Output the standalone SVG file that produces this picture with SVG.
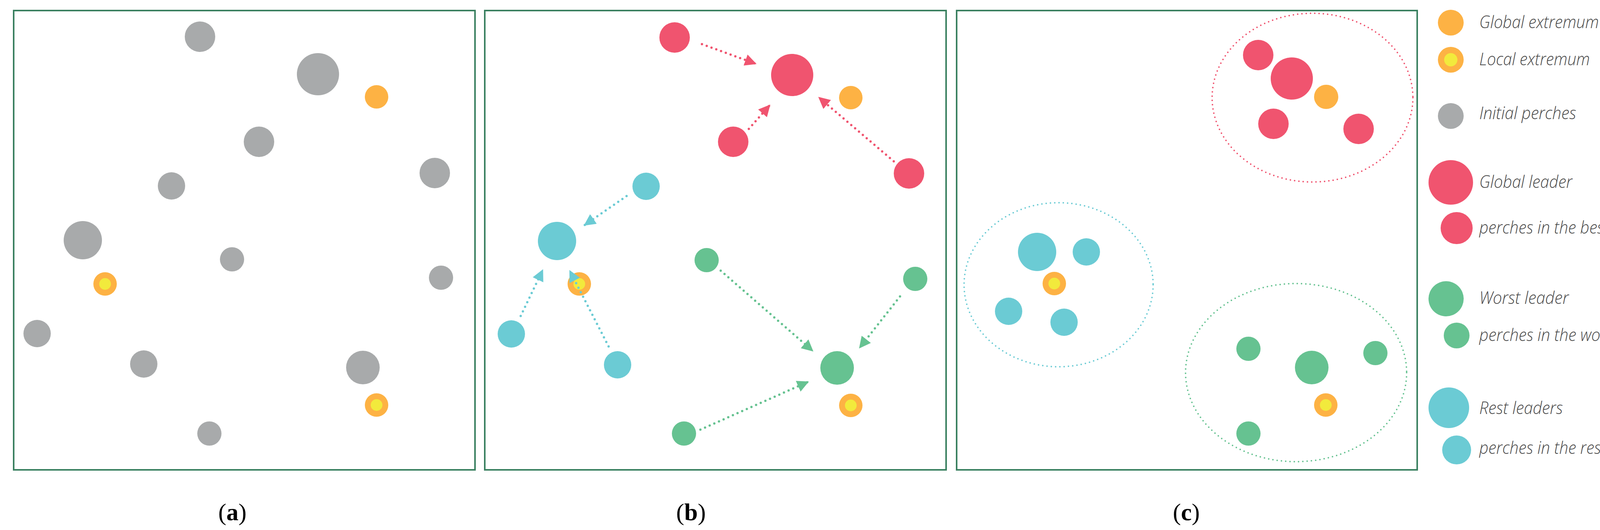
<svg xmlns="http://www.w3.org/2000/svg" width="4287" height="1357" viewBox="0 0 4287 1357">
<style>
.box{fill:#fff;stroke:#3a8060;stroke-width:4}
.g{fill:#a8aaab}.o{fill:#fdb244}.y{fill:#f2ea3c}.r{fill:#f0546f}.c{fill:#6bcbd4}.gr{fill:#66c291}
.ar{fill:none;stroke-width:6;stroke-dasharray:0 13;stroke-linecap:round}
.el{fill:none;stroke-width:4;stroke-dasharray:0 11;stroke-linecap:round}
.lg{font-family:"Open Sans",sans-serif;font-style:italic;font-weight:300;font-size:44px;fill:#4a4a4a}
.cap{font-family:"Liberation Serif",serif;font-size:62px;fill:#000}
</style>
<defs>
<marker id="mr" viewBox="0 0 10 10" refX="9" refY="5" markerWidth="5" markerHeight="5" orient="auto" markerUnits="strokeWidth"><path d="M0,0L10,5L0,10z" fill="#f0546f"/></marker>
<marker id="mc" viewBox="0 0 10 10" refX="9" refY="5" markerWidth="5" markerHeight="5" orient="auto" markerUnits="strokeWidth"><path d="M0,0L10,5L0,10z" fill="#6bcbd4"/></marker>
<marker id="mg" viewBox="0 0 10 10" refX="9" refY="5" markerWidth="5" markerHeight="5" orient="auto" markerUnits="strokeWidth"><path d="M0,0L10,5L0,10z" fill="#66c291"/></marker>
</defs>
<g id="panel-a">
<rect class="box" x="35" y="27" width="1181" height="1176"/>
<circle class="g" cx="512" cy="94" r="39"/><circle class="g" cx="814" cy="190" r="54"/>
<circle class="o" cx="964" cy="248" r="30"/>
<circle class="g" cx="663" cy="363" r="39"/><circle class="g" cx="1113" cy="443" r="39"/>
<circle class="g" cx="439" cy="476" r="35"/><circle class="g" cx="212" cy="615" r="49"/>
<circle class="g" cx="594" cy="664" r="31"/>
<circle class="o" cx="269" cy="727" r="30"/><circle class="y" cx="269" cy="727" r="15"/>
<circle class="g" cx="1129" cy="711" r="31"/><circle class="g" cx="95" cy="854" r="35"/>
<circle class="g" cx="368" cy="932" r="35"/><circle class="g" cx="929" cy="941" r="43"/>
<circle class="o" cx="964" cy="1037" r="30"/><circle class="y" cx="964" cy="1037" r="15"/>
<circle class="g" cx="536" cy="1110" r="31"/>
<text class="cap" x="595" y="1332" text-anchor="middle">(<tspan font-weight="bold">a</tspan>)</text>
</g>
<g id="panel-b">
<rect class="box" x="1241" y="27" width="1181" height="1176"/>
<circle class="r" cx="1727" cy="96" r="39"/><circle class="r" cx="2028" cy="192" r="54"/>
<circle class="o" cx="2178" cy="250" r="30"/>
<circle class="r" cx="1877" cy="363" r="39"/><circle class="r" cx="2327" cy="444" r="39"/>
<circle class="c" cx="1654" cy="477" r="35"/><circle class="c" cx="1426" cy="617" r="49"/>
<circle class="o" cx="1483" cy="727" r="30"/><circle class="y" cx="1483" cy="727" r="15"/>
<circle class="gr" cx="1809" cy="666" r="31"/><circle class="gr" cx="2343" cy="714" r="31"/>
<circle class="c" cx="1309" cy="855" r="35"/><circle class="c" cx="1581" cy="934" r="35"/>
<circle class="gr" cx="2143" cy="942" r="43"/>
<circle class="o" cx="2178" cy="1038" r="30"/><circle class="y" cx="2178" cy="1038" r="15"/>
<circle class="gr" cx="1751" cy="1110" r="31"/>
<text class="cap" x="1769" y="1332" text-anchor="middle">(<tspan font-weight="bold">b</tspan>)</text>
</g>
<g id="connectors">
<line class="ar" stroke="#f0546f" marker-end="url(#mr)" x1="1797" y1="113" x2="1934" y2="163"/>
<line class="ar" stroke="#f0546f" marker-end="url(#mr)" x1="1917" y1="330" x2="1970" y2="270"/>
<line class="ar" stroke="#f0546f" marker-end="url(#mr)" x1="2288" y1="413" x2="2097" y2="250"/>
<line class="ar" stroke="#6bcbd4" marker-end="url(#mc)" x1="1604" y1="502" x2="1497" y2="576"/>
<line class="ar" stroke="#6bcbd4" marker-end="url(#mc)" x1="1333" y1="809" x2="1389" y2="692"/>
<line class="ar" stroke="#6bcbd4" marker-end="url(#mc)" x1="1558" y1="887" x2="1459" y2="694"/>
<line class="ar" stroke="#66c291" marker-end="url(#mg)" x1="1845" y1="693" x2="2080" y2="898"/>
<line class="ar" stroke="#66c291" marker-end="url(#mg)" x1="2304" y1="759" x2="2201" y2="890"/>
<line class="ar" stroke="#66c291" marker-end="url(#mg)" x1="1793" y1="1100" x2="2068" y2="978"/>
</g>
<g id="panel-c">
<rect class="box" x="2449" y="27" width="1179" height="1176"/>
<ellipse class="el" stroke="#f0546f" cx="3360" cy="250" rx="257" ry="216"/>
<ellipse class="el" stroke="#6bcbd4" cx="2710" cy="729" rx="242" ry="210"/>
<ellipse class="el" stroke="#66c291" cx="3318" cy="954" rx="283" ry="228"/>
<circle class="r" cx="3221" cy="141" r="39"/><circle class="r" cx="3307" cy="201" r="54"/>
<circle class="o" cx="3395" cy="248" r="31"/>
<circle class="r" cx="3260" cy="317" r="39"/><circle class="r" cx="3478" cy="330" r="39"/>
<circle class="c" cx="2655" cy="645" r="49"/><circle class="c" cx="2781" cy="645" r="35"/>
<circle class="o" cx="2699" cy="726" r="30"/><circle class="y" cx="2699" cy="726" r="15"/>
<circle class="c" cx="2582" cy="797" r="35"/><circle class="c" cx="2724" cy="825" r="35"/>
<circle class="gr" cx="3196" cy="893" r="31"/><circle class="gr" cx="3358" cy="941" r="43"/>
<circle class="gr" cx="3521" cy="904" r="31"/>
<circle class="o" cx="3394" cy="1037" r="30"/><circle class="y" cx="3394" cy="1037" r="15"/>
<circle class="gr" cx="3196" cy="1110" r="31"/>
<text class="cap" x="3037" y="1332" text-anchor="middle">(<tspan font-weight="bold">c</tspan>)</text>
</g>
<g id="legend">
<circle class="o" cx="3714" cy="58" r="33"/>
<text class="lg" x="3787" y="72" textLength="306" lengthAdjust="spacingAndGlyphs">Global extremum</text>
<circle class="o" cx="3714" cy="153" r="33"/><circle class="y" cx="3714" cy="153" r="17"/>
<text class="lg" x="3787" y="167" textLength="283" lengthAdjust="spacingAndGlyphs">Local extremum</text>
<circle class="g" cx="3714" cy="297" r="33"/>
<text class="lg" x="3787" y="305" textLength="248" lengthAdjust="spacingAndGlyphs">Initial perches</text>
<circle class="r" cx="3714" cy="467" r="57"/>
<text class="lg" x="3787" y="481" textLength="238" lengthAdjust="spacingAndGlyphs">Global leader</text>
<circle class="r" cx="3729" cy="584" r="41"/>
<text class="lg" x="3787" y="598" textLength="457" lengthAdjust="spacingAndGlyphs">perches in the best school</text>
<circle class="gr" cx="3702" cy="765" r="45"/>
<text class="lg" x="3787" y="778" textLength="229" lengthAdjust="spacingAndGlyphs">Worst leader</text>
<circle class="gr" cx="3729" cy="859" r="33"/>
<text class="lg" x="3787" y="873" textLength="481" lengthAdjust="spacingAndGlyphs">perches in the worst school</text>
<circle class="c" cx="3709" cy="1044" r="52"/>
<text class="lg" x="3787" y="1060" textLength="214" lengthAdjust="spacingAndGlyphs">Rest leaders</text>
<circle class="c" cx="3729" cy="1152" r="37"/>
<text class="lg" x="3787" y="1162" textLength="467" lengthAdjust="spacingAndGlyphs">perches in the rest schools</text>
</g>
</svg>
